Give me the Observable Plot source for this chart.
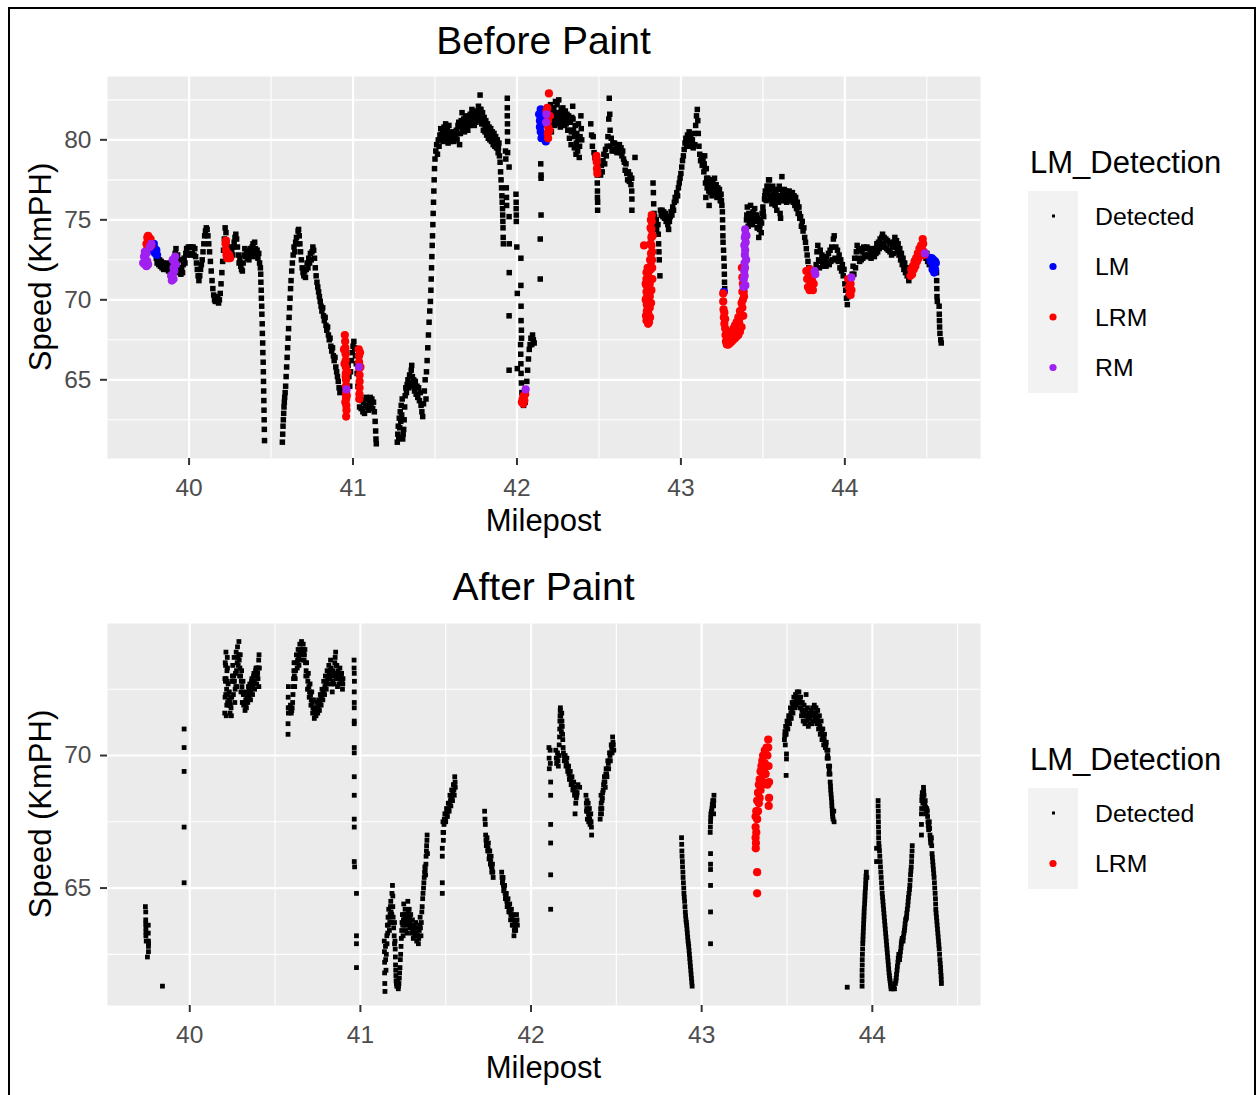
<!DOCTYPE html>
<html><head><meta charset="utf-8">
<script src="https://cdn.jsdelivr.net/npm/d3@7"></script>
<script src="https://cdn.jsdelivr.net/npm/@observablehq/plot@0.6"></script>
<style>
html,body{margin:0;padding:0;background:#fff;overflow:hidden;}
#wrap{position:relative;width:1259px;height:1095px;overflow:hidden;background:#fff;}
#wrap svg{position:absolute;left:0;}
#border{position:absolute;left:8px;top:7px;width:1248px;height:1200px;border:2px solid #000;box-sizing:border-box;pointer-events:none;}
</style></head><body><div id="wrap"><div id="border"></div></div><script>
const FONT = "'Liberation Sans', Arial, sans-serif";

// ---------- tick values ----------
const xMajorBefore = [40, 41, 42, 43, 44];
const xMinorBefore = [40.5, 41.5, 42.5, 43.5, 44.5];
const yMajorBefore = [65, 70, 75, 80];
const yMinorBefore = [62.5, 67.5, 72.5, 77.5, 82.5];
const xMajorAfter = [40, 41, 42, 43, 44];
const xMinorAfter = [40.5, 41.5, 42.5, 43.5, 44.5];
const yMajorAfter = [65, 70];
const yMinorAfter = [62.5, 67.5, 72.5];

const classesBefore = ["Detected", "LM", "LRM", "RM"];
const classesAfter = ["Detected", "LRM"];
const classColors = {Detected: "#000000", LM: "#0000FF", LRM: "#FF0000", RM: "#A020F0"};

// ---------- Before Paint: [milepost, speed] ----------
const beforeDetected = [
[39.795,72.9],[39.8,72.6],[39.805,72.3],[39.81,72.5],[39.815,72.2],[39.82,72.5],[39.825,72.1],[39.83,72.4],[39.835,72.0],[39.84,72.3],[39.845,71.9],[39.85,72.2],[39.855,72.0],[39.86,72.3],[39.865,71.9],[39.87,72.1],[39.875,71.8],[39.88,72.2],[39.885,71.9],[39.89,72.3],
[39.915,72.9],[39.92,73.2],[39.922,72.5],[39.925,71.7],[39.928,72.2],[39.93,72.8],[39.935,72.0],[39.94,72.5],[39.945,71.9],[39.95,71.6],[39.955,72.0],[39.96,71.7],[39.965,72.2],[39.97,72.6],[39.975,72.3],[39.98,72.9],[39.985,73.2],[39.99,72.8],[39.995,73.3],[40.0,72.9],[40.005,73.3],[40.01,72.8],[40.015,73.3],[40.02,72.9],[40.025,73.3],[40.03,72.8],[40.035,73.2],[40.04,72.7],[40.045,72.3],[40.05,71.9],[40.055,71.5],[40.06,71.2],[40.065,71.5],[40.07,71.9],[40.075,72.2],
[40.08,72.5],[40.085,73.0],[40.09,73.5],[40.095,74.0],[40.1,74.3],[40.105,74.5],[40.11,74.4],[40.115,74.0],[40.12,73.5],[40.125,73.0],[40.13,72.4],[40.135,71.8],[40.14,71.2],[40.145,70.7],[40.15,70.3],[40.155,70.0],[40.16,69.9],[40.165,70.2],[40.17,69.9],[40.175,70.1],[40.18,69.8],[40.185,70.0],[40.19,70.4],[40.195,71.0],[40.2,71.7],[40.205,72.4],[40.21,73.1],[40.215,73.8],[40.22,74.5],[40.225,74.2],
[40.23,73.5],[40.235,72.9],[40.24,73.3],[40.245,72.8],[40.25,73.2],[40.255,72.7],[40.26,73.1],[40.265,72.8],[40.27,73.3],[40.275,73.6],[40.28,73.9],[40.285,74.1],[40.29,73.8],[40.295,73.3],[40.3,72.8],[40.305,72.3],[40.31,72.6],[40.315,72.1],[40.32,71.9],[40.325,71.8],[40.33,72.3],[40.335,72.8],[40.34,73.2],[40.345,72.7],[40.35,73.1],[40.355,72.6],[40.36,73.0],[40.365,72.5],[40.37,72.9],[40.375,73.2],[40.38,72.7],[40.385,73.3],[40.39,73.5],[40.395,73.0],[40.4,73.6],[40.405,73.2],[40.41,72.7],[40.415,73.1],[40.42,72.6],[40.425,72.9],[40.43,72.3],[40.435,72.0],
[40.437,71.6],[40.438,71.1],[40.44,70.6],[40.441,70.1],[40.443,69.6],[40.444,69.1],[40.446,68.5],[40.447,67.9],[40.449,67.3],[40.45,66.7],[40.452,66.1],[40.453,65.5],[40.454,64.9],[40.455,64.3],[40.456,63.7],[40.457,63.1],[40.458,62.5],[40.459,61.9],[40.46,61.2],
[40.569,61.1],[40.571,61.6],[40.573,62.1],[40.575,62.5],[40.577,62.9],[40.579,63.3],[40.581,63.6],[40.583,63.9],[40.586,64.2],[40.589,64.6],[40.592,65.2],[40.595,65.8],[40.598,66.4],[40.601,67.0],[40.604,67.6],[40.607,68.2],[40.61,68.9],[40.613,69.5],[40.616,70.1],[40.619,70.7],[40.622,71.2],[40.626,71.8],[40.63,72.3],[40.635,72.8],[40.64,73.3],[40.645,73.0],[40.65,73.6],[40.655,73.9],[40.66,73.5],[40.665,74.3],[40.668,74.4],[40.672,74.0],[40.676,73.5],[40.68,73.0],[40.685,72.5],[40.69,72.0],[40.695,71.7],
[40.7,71.5],[40.705,71.8],[40.71,71.4],[40.715,71.9],[40.72,72.3],[40.725,72.0],[40.73,72.6],[40.735,72.3],[40.74,72.9],[40.745,72.5],[40.75,73.0],[40.755,73.3],[40.76,73.1],[40.765,72.6],[40.77,72.0],[40.775,71.5],[40.78,71.1],[40.785,70.8],[40.79,70.5],[40.795,70.2],[40.8,69.9],[40.805,69.6],[40.81,69.3],[40.815,69.5],[40.82,69.0],[40.825,68.7],[40.83,68.9],[40.835,68.4],[40.84,68.1],[40.845,68.3],[40.85,67.8],[40.855,67.5],[40.86,67.6],[40.865,67.1],[40.87,66.8],[40.875,67.0],[40.88,66.5],[40.885,66.2],[40.89,66.4],[40.895,65.8],[40.9,65.5],[40.905,65.2],[40.91,64.9],[40.915,64.5],[40.92,64.2],[40.925,64.4],
[40.955,64.2],[40.96,64.8],[40.965,65.4],[40.97,65.9],[40.975,65.2],[40.98,64.6],[40.985,65.5],[40.99,66.2],[40.995,66.7],[41.0,67.1],[41.005,67.4],[41.01,67.0],[41.015,66.5],[41.02,66.0],[41.025,65.4],
[41.03,64.6],[41.035,64.0],[41.04,63.3],[41.045,63.9],[41.05,63.2],[41.055,63.7],[41.06,63.0],[41.065,63.6],[41.07,62.9],[41.075,63.4],[41.08,63.9],[41.085,63.3],[41.09,63.8],[41.095,63.1],[41.1,63.6],[41.105,63.9],[41.11,63.4],[41.115,63.8],[41.12,63.2],[41.125,63.6],[41.13,63.0],[41.135,62.4],[41.138,61.8],[41.14,61.3],[41.142,61.0],
[41.27,61.1],[41.273,61.6],[41.276,62.1],[41.279,61.4],[41.282,62.6],[41.285,62.0],[41.288,63.0],[41.291,62.4],[41.294,63.4],[41.297,62.8],[41.3,63.8],[41.303,61.3],[41.306,61.6],[41.309,61.9],[41.312,62.5],[41.315,63.3],[41.318,64.0],[41.322,64.5],[41.326,64.2],[41.33,64.7],
[41.335,65.0],[41.34,64.5],[41.345,65.3],[41.35,64.8],[41.355,65.6],[41.358,65.9],[41.362,65.2],[41.366,64.6],[41.37,65.0],[41.375,64.3],[41.38,64.9],[41.385,64.1],[41.39,64.6],[41.395,63.9],[41.4,64.5],[41.405,63.7],[41.41,64.2],[41.415,63.4],[41.42,63.0],[41.425,62.7],[41.43,63.5],[41.435,64.3],[41.44,65.0],[41.445,63.8],
[41.448,65.5],[41.452,66.2],[41.456,67.0],[41.46,67.8],[41.464,68.6],[41.468,69.3],[41.472,69.9],[41.475,70.6],[41.477,71.3],[41.479,72.0],[41.481,72.7],[41.483,73.4],[41.485,74.0],[41.487,74.7],[41.489,75.4],[41.491,76.1],[41.493,76.8],[41.495,77.5],[41.497,78.2],[41.5,78.8],[41.505,79.3],[41.51,79.7],[41.515,79.1],[41.52,80.0],[41.525,79.6],[41.53,80.3],
[41.535,80.7],[41.54,80.0],[41.545,80.6],[41.55,79.9],[41.555,80.8],[41.56,80.2],[41.565,81.0],[41.57,80.1],[41.575,80.6],[41.58,79.8],[41.585,80.9],[41.59,80.2],[41.595,79.9],[41.6,80.4],[41.605,80.1],[41.61,80.3],[41.615,79.9],[41.62,80.5],[41.625,80.1],[41.63,80.6],[41.635,80.0],[41.64,80.9],[41.645,81.1],[41.65,79.7],[41.655,80.4],[41.66,81.2],[41.665,81.7],[41.67,80.6],[41.675,81.3],[41.68,80.5],[41.685,81.4],[41.69,80.8],[41.695,81.5],[41.7,80.6],[41.705,81.3],[41.71,80.9],[41.715,81.6],[41.72,81.0],[41.725,81.9],[41.73,81.2],[41.735,81.7],[41.74,80.9],[41.745,81.6],[41.75,81.1],[41.755,81.8],[41.76,81.2],[41.765,82.1],[41.77,81.4],[41.775,82.8],[41.78,81.9],[41.785,81.0],[41.79,81.7],[41.795,80.6],[41.8,81.4],[41.805,80.5],[41.81,81.2],[41.815,80.3],[41.82,81.0],[41.825,80.1],[41.83,80.8],[41.835,80.0],[41.84,80.7],[41.845,79.9],[41.85,80.5],[41.855,79.7],[41.86,80.4],[41.865,79.6],[41.87,80.2],[41.875,79.5],[41.88,80.0],[41.885,79.2],[41.89,79.8],[41.893,79.0],
[41.537,80.3],[41.547,80.3],[41.557,80.4],[41.567,80.5],[41.577,80.3],[41.587,80.5],[41.597,80.2],[41.607,80.2],[41.617,80.2],[41.627,80.3],[41.637,80.4],[41.647,80.4],[41.657,80.8],[41.667,81.1],[41.677,80.9],[41.687,81.0],[41.697,81.1],[41.707,81.1],[41.717,81.3],[41.727,81.5],[41.737,81.4],[41.747,81.4],[41.757,81.5],[41.767,81.7],[41.777,81.9],[41.787,81.3],[41.797,81.0],[41.807,80.8],[41.817,80.6],[41.827,80.4],[41.837,80.3],[41.847,80.2],[41.857,80.0],[41.867,79.9],[41.877,79.7],[41.887,79.5],
[41.897,78.6],[41.9,78.0],[41.903,77.5],[41.906,77.0],[41.908,76.5],[41.91,76.1],[41.912,75.7],[41.913,75.3],[41.914,74.9],[41.915,74.5],[41.916,73.9],[41.917,73.5],[41.93,79.3],[41.932,78.8],[41.935,77.0],[41.936,76.4],[41.937,75.9],
[41.941,82.6],[41.941,82.0],[41.941,81.5],[41.942,81.0],[41.942,80.5],[41.943,79.9],[41.943,79.2],
[41.952,78.3],[41.952,75.2],[41.953,73.5],[41.953,71.7],[41.952,69.0],[41.952,65.6],
[41.994,76.6],[41.995,76.1],[41.995,75.7],[41.996,75.3],[41.996,74.9],[41.999,73.3],[42.024,72.6],[42.024,70.9],[42.002,70.4],[42.025,69.6],[42.025,68.7],[42.027,68.1],[42.028,67.6],[42.002,65.7],
[42.022,67.2],[42.023,66.6],[42.024,66.0],[42.025,65.4],[42.027,64.8],[42.03,64.2],[42.035,63.7],[42.04,63.4],
[42.05,63.6],[42.055,64.2],[42.06,64.9],[42.065,65.6],[42.07,66.3],[42.075,66.9],[42.08,67.2],[42.085,67.6],[42.09,67.2],[42.095,67.8],[42.1,67.5],[42.105,67.3],
[42.145,78.5],[42.147,77.8],[42.147,77.6],[42.147,75.3],[42.142,73.8],[42.142,71.3],
[42.2,81.0],[42.205,82.2],[42.21,80.5],[42.215,81.8],[42.22,81.2],[42.225,82.0],[42.23,80.9],[42.235,82.4],[42.24,81.3],[42.245,82.2],[42.25,81.0],[42.255,82.5],[42.26,81.5],[42.265,80.8],[42.27,81.9],[42.275,81.0],[42.28,82.0],[42.285,81.2],[42.29,80.9],[42.295,81.8],[42.3,81.0],[42.305,81.6],[42.31,80.6],[42.315,81.5],[42.32,80.1],[42.325,81.1],[42.33,79.7],[42.335,81.4],[42.34,82.1],[42.345,80.6],[42.35,79.5],[42.355,80.9],[42.36,79.1],[42.365,80.4],[42.37,79.3],[42.375,81.0],[42.38,78.9],[42.385,80.2],[42.39,81.5],[42.395,80.0],
[42.202,81.6],[42.212,81.1],[42.222,81.6],[42.232,81.6],[42.242,81.7],[42.252,81.7],[42.262,81.2],[42.272,81.4],[42.282,81.6],[42.292,81.3],[42.302,81.3],[42.312,81.1],[42.322,80.6],[42.332,80.5],[42.342,81.3],[42.352,80.2],[42.362,79.8],[42.372,80.1],[42.382,79.6],[42.392,80.7],
[42.45,81.0],[42.455,80.3],[42.46,79.6],[42.465,80.2],[42.47,79.2],[42.475,78.9],
[42.49,77.8],[42.49,77.3],[42.491,76.8],[42.491,76.4],[42.492,76.1],[42.492,75.6],
[42.51,77.8],[42.515,78.4],[42.52,78.0],[42.525,78.7],[42.53,79.1],[42.535,78.5],[42.54,79.4],[42.545,79.0],[42.55,79.6],
[42.555,80.2],[42.56,81.3],[42.563,82.6],[42.566,81.6],[42.568,80.6],[42.57,79.6],[42.575,80.1],[42.58,79.3],
[42.585,79.8],[42.59,79.4],[42.595,79.8],[42.6,79.3],[42.605,79.7],[42.61,79.2],[42.615,79.6],[42.62,79.3],[42.625,79.7],[42.63,79.2],[42.635,79.5],[42.64,79.0],[42.645,79.3],[42.65,78.8],
[42.655,78.6],[42.66,78.1],[42.665,78.5],[42.67,77.9],[42.675,77.5],[42.68,78.0],[42.685,77.4],[42.69,77.8],[42.695,77.2],[42.7,77.6],[42.7,76.8],[42.701,76.3],[42.701,75.6],[42.72,78.9],
[42.83,77.3],[42.832,76.7],[42.834,76.0],[42.836,75.4],[42.838,74.8],[42.84,75.2],[42.845,74.6],[42.85,75.0],[42.852,74.4],
[42.86,74.7],[42.862,74.1],[42.864,73.5],[42.866,73.0],[42.868,72.5],[42.872,71.5],
[42.875,75.6],[42.88,75.3],[42.885,75.6],[42.89,75.2],[42.895,75.5],[42.9,75.1],[42.905,75.4],[42.91,74.9],[42.915,75.2],[42.92,74.7],[42.925,74.4],[42.93,74.9],[42.935,75.2],[42.94,75.5],[42.945,75.3],
[42.95,75.8],[42.955,75.6],[42.96,76.1],[42.965,76.4],[42.97,76.2],[42.975,76.7],[42.98,76.5],[42.985,77.0],[42.99,77.3],[42.995,77.6],
[43.0,77.9],[43.005,78.3],[43.01,78.7],[43.015,79.0],[43.02,79.4],[43.025,79.8],[43.03,80.1],[43.035,79.6],[43.04,80.3],[43.045,79.9],
[43.05,80.5],[43.055,79.8],[43.06,80.2],[43.065,79.6],[43.07,80.0],[43.075,79.5],[43.08,80.4],[43.085,79.7],[43.09,80.9],[43.095,81.5],[43.1,81.9],[43.103,81.2],[43.106,80.4],[43.11,79.6],
[43.115,79.1],[43.12,78.7],[43.125,79.0],[43.13,78.4],[43.135,78.8],
[43.14,78.0],[43.145,79.0],[43.15,77.3],[43.152,76.4],[43.155,78.2],[43.16,77.0],[43.165,77.6],[43.17,76.8],[43.172,75.9],[43.175,77.4],[43.18,76.7],[43.185,77.5],[43.19,76.5],[43.195,77.3],[43.2,76.8],[43.205,77.6],[43.21,76.7],[43.215,77.2],[43.22,76.4],[43.225,77.0],[43.23,76.5],[43.235,76.9],[43.24,76.2],[43.245,76.6],[43.25,75.9],
[43.142,78.5],[43.147,78.2],[43.157,77.6],[43.167,77.2],[43.177,77.0],[43.187,77.0],[43.197,76.9],[43.207,77.1],[43.217,76.8],[43.227,76.7],[43.237,76.5],[43.247,76.2],
[43.253,75.5],[43.254,75.0],[43.255,74.5],[43.256,74.0],[43.257,73.6],[43.26,73.1],[43.262,72.6],[43.264,72.1],[43.265,71.6],[43.266,71.1],[43.267,70.7],
[43.388,70.5],
[43.395,74.3],[43.4,75.0],[43.405,75.8],[43.41,74.6],[43.415,75.4],[43.42,74.8],[43.425,75.9],[43.43,75.2],[43.435,74.7],[43.44,75.5],[43.445,75.0],[43.45,75.7],[43.455,74.9],[43.46,75.3],[43.465,74.5],[43.47,75.1],[43.475,73.9],[43.48,74.4],[43.485,75.0],[43.49,74.2],[43.495,75.4],[43.5,75.8],[43.505,75.2],[43.51,76.3],[43.515,76.8],[43.52,76.2],[43.525,77.1],[43.53,76.7],[43.535,77.5],
[43.402,75.3],[43.412,75.0],[43.422,75.3],[43.432,75.0],[43.442,75.2],[43.452,75.3],[43.462,74.9],[43.472,74.5],[43.482,74.7],[43.492,74.8],[43.502,75.5],[43.512,76.5],[43.522,76.6],[43.532,77.1],
[43.54,77.5],[43.545,76.3],[43.55,77.0],[43.555,76.0],[43.56,77.1],[43.565,76.2],[43.57,76.8],[43.575,75.9],[43.58,76.6],[43.585,75.6],[43.59,76.9],[43.595,76.1],[43.6,77.1],[43.605,75.4],[43.608,75.1],[43.612,76.5],[43.616,77.7],[43.62,76.8],[43.625,76.2],[43.63,76.9],[43.635,76.2],[43.64,76.8],[43.645,76.1],[43.65,76.7],[43.655,76.2],[43.66,76.8],[43.665,76.3],[43.67,76.7],[43.675,76.2],[43.68,76.7],[43.685,76.1],[43.69,76.5],[43.695,75.9],[43.7,76.4],[43.705,75.7],[43.71,76.1],[43.715,75.4],[43.72,75.8],[43.725,75.1],
[43.542,76.9],[43.552,76.5],[43.562,76.6],[43.572,76.3],[43.582,76.1],[43.592,76.5],[43.602,76.2],[43.622,76.5],[43.632,76.5],[43.642,76.4],[43.652,76.4],[43.662,76.5],[43.672,76.4],[43.682,76.4],[43.692,76.2],[43.702,76.0],[43.712,75.8],[43.722,75.4],
[43.73,75.2],[43.735,74.6],[43.74,74.9],[43.745,74.3],[43.75,74.5],[43.755,73.9],[43.76,73.6],[43.765,73.2],[43.77,72.8],[43.775,72.4],[43.78,72.0],
[43.825,72.2],[43.83,73.0],[43.835,73.4],[43.84,72.5],[43.845,72.0],[43.85,73.1],[43.855,72.4],[43.86,72.8],[43.865,72.1],[43.87,72.6],[43.875,72.2],[43.88,72.5],[43.885,72.1],[43.89,72.7],[43.895,72.3],[43.9,72.9],[43.905,72.2],[43.91,73.1],[43.915,72.4],[43.92,73.3],[43.925,72.5],[43.93,73.8],[43.935,74.0],[43.94,72.6],[43.945,73.3],[43.95,72.5],[43.955,73.1],[43.96,72.4],[43.965,72.8],[43.97,72.0],[43.975,72.5],[43.98,71.8],[43.985,72.2],[43.99,71.5],[43.995,71.9],[44.0,71.0],[44.005,70.6],[44.01,70.1],[44.015,69.7],[44.02,70.2],
[44.045,71.6],[44.05,72.1],[44.055,71.6],[44.06,72.6],[44.065,72.0],[44.07,73.0],[44.075,73.4],[44.08,72.6],[44.085,73.1],[44.09,72.4],[44.095,73.2],[44.1,72.5],[44.105,73.0],[44.11,72.6],[44.115,73.3],[44.12,72.8],[44.125,73.2],[44.13,72.7],[44.135,73.3],[44.14,72.8],[44.145,73.2],[44.15,72.7],[44.155,73.1],[44.16,72.6],[44.165,73.2],[44.17,72.8],[44.175,73.1],[44.18,72.7],[44.185,73.2],[44.19,72.9],[44.195,73.5],[44.2,73.0],[44.205,73.6],[44.21,73.2],[44.215,73.8],[44.22,73.3],[44.225,73.9],[44.23,74.1],[44.235,73.5],[44.24,73.9],[44.245,73.3],[44.25,73.8],[44.255,73.2],[44.26,73.7],[44.265,73.1],[44.27,73.6],[44.275,73.0],[44.28,73.5],[44.285,72.8],[44.29,73.3],[44.295,72.9],[44.3,73.6],[44.305,73.9],[44.31,73.3],[44.315,73.7],[44.32,73.0],[44.325,73.5],[44.33,72.8],[44.335,73.2],[44.34,72.5],[44.345,72.9],[44.35,72.2],[44.355,72.6],[44.36,71.9],[44.365,72.3],[44.37,71.7],[44.375,72.0],[44.38,71.5],[44.385,71.8],[44.39,71.2],[44.395,71.6],
[44.49,72.9],[44.495,72.6],[44.5,72.9],[44.505,72.4],[44.51,72.7],[44.515,72.2],
[44.558,72.3],[44.559,71.7],[44.56,71.2],[44.561,70.7],[44.562,70.2],[44.564,69.9],[44.575,69.6],[44.576,69.1],[44.577,68.7],[44.578,68.3],[44.58,67.9],[44.585,67.5],[44.588,67.3]
];

const beforeLM = [
[39.775,73.2],[39.78,73.4],[39.785,73.0],[39.79,73.2],[39.795,72.9],[39.8,73.1],[39.805,72.8],[39.785,73.5],
[42.135,81.6],[42.14,81.2],[42.14,80.8],[42.145,80.5],[42.145,81.9],[42.15,80.1],[42.155,80.3],[42.16,81.4],[42.175,80.0],[42.176,79.9],
[43.262,70.5],
[44.52,72.6],[44.525,72.4],[44.53,72.6],[44.535,72.3],[44.535,71.9],[44.54,72.5],[44.54,72.0],[44.545,71.7],[44.55,72.4],[44.55,71.9],[44.555,72.3]
];

const beforeLRM = [
[39.74,73.5],[39.745,73.9],[39.75,74.0],[39.755,73.9],[39.76,73.6],[39.745,73.2],[39.765,73.8],[39.77,73.4],
[40.222,73.5],[40.225,73.1],[40.228,72.8],[40.232,72.6],[40.236,72.9],[40.24,72.6],[40.245,72.8],[40.25,72.6],[40.225,73.7],
[40.95,67.8],[40.952,67.4],[40.953,67.0],[40.955,66.6],[40.955,66.2],[40.956,65.8],[40.956,65.4],[40.957,65.0],[40.957,64.6],[40.958,64.2],[40.958,63.8],[40.959,63.4],[40.96,63.1],[40.958,62.7],[40.945,66.9],[40.948,66.0],[40.965,65.5],[40.962,64.0],[40.952,66.8],[40.955,65.2],[40.957,64.0],[40.953,63.6],
[41.035,66.9],[41.037,66.5],[41.037,66.1],[41.038,65.7],[41.04,65.3],[41.04,64.9],[41.04,64.5],[41.039,64.1],[41.038,63.8],[41.045,65.8],[41.043,66.7],
[42.03,63.6],[42.035,63.8],[42.04,64.0],[42.045,63.7],[42.05,64.1],[42.038,63.5],
[42.195,82.9],[42.185,82.0],[42.185,81.6],[42.19,81.2],[42.19,80.8],[42.188,80.4],[42.19,80.1],[42.18,81.8],[42.2,81.5],[42.198,80.6],
[42.485,79.0],[42.487,78.6],[42.488,78.2],[42.49,77.9],[42.484,78.8],
[42.775,73.4],[42.79,71.7],[42.79,71.3],[42.79,70.9],[42.79,70.5],[42.79,70.1],[42.792,69.7],[42.792,69.3],[42.795,68.9],[42.8,68.5],[42.805,68.6],[42.8,69.2],[42.8,70.0],[42.8,70.8],[42.8,71.5],[42.81,71.0],[42.81,70.2],[42.81,69.5],[42.812,68.9],[42.815,71.9],[42.818,72.4],[42.818,72.9],[42.82,73.4],[42.82,73.9],[42.82,74.4],[42.822,74.9],[42.822,75.3],[42.825,72.0],[42.825,73.0],[42.828,74.0],[42.826,71.3],[42.82,70.6],[42.818,69.8],
[42.785,70.0],[42.785,71.0],[42.787,69.0],[42.79,68.7],[42.797,72.0],[42.805,71.8],[42.808,70.4],[42.812,72.5],[42.815,73.5],[42.815,74.5],[42.817,75.0],[42.824,72.5],[42.823,74.0],[42.797,69.6],[42.805,69.0],
[43.258,70.4],[43.258,69.9],[43.26,69.4],[43.262,68.9],[43.265,68.5],[43.27,68.2],[43.272,67.8],[43.275,67.4],[43.28,67.2],[43.285,67.5],[43.29,67.2],[43.295,67.6],[43.3,67.3],[43.305,67.7],[43.31,67.4],[43.315,67.9],[43.32,67.5],[43.325,68.0],[43.33,67.6],[43.335,68.2],[43.34,67.7],[43.345,68.4],[43.35,67.8],[43.355,68.6],[43.36,68.0],[43.365,69.0],[43.37,68.3],[43.375,69.5],[43.378,70.0],[43.38,69.0],[43.382,70.5],[43.375,71.4],[43.372,72.0],[43.385,70.2],
[43.265,69.2],[43.27,68.8],[43.28,67.8],[43.29,67.8],[43.3,67.9],[43.31,68.0],[43.32,68.2],[43.33,68.4],[43.34,68.6],[43.35,68.9],[43.36,69.3],[43.37,69.8],[43.375,70.5],[43.378,71.0],
[43.765,71.8],[43.77,71.3],[43.775,70.8],[43.78,71.5],[43.785,70.6],[43.79,71.1],[43.795,70.7],[43.8,71.2],[43.805,70.6],[43.81,71.0],[43.785,71.9],
[44.02,71.3],[44.025,70.8],[44.03,70.4],[44.035,71.0],[44.035,70.3],[44.04,70.6],
[44.4,71.5],[44.405,71.9],[44.41,71.6],[44.415,72.1],[44.42,71.9],[44.425,72.4],[44.43,72.1],[44.435,72.6],[44.44,72.4],[44.445,72.9],[44.45,72.6],[44.455,73.2],[44.46,72.9],[44.465,73.4],[44.47,73.2],[44.475,73.8],[44.478,73.5],[44.482,73.0],[44.485,72.8]
];

const beforeRM = [
[39.72,72.3],[39.725,72.7],[39.73,73.0],[39.73,72.2],[39.735,72.5],[39.74,72.9],[39.74,72.1],[39.745,72.4],[39.75,72.2],[39.76,73.3],[39.77,73.5],
[39.89,71.5],[39.895,71.2],[39.9,71.6],[39.905,72.0],[39.905,71.3],[39.91,72.4],[39.91,71.8],[39.915,72.7],[39.92,72.2],[39.9,72.5],
[40.96,64.4],[41.037,65.8],[42.053,64.4],[42.18,81.6],[42.178,81.1],
[43.382,70.8],[43.384,71.3],[43.386,71.8],[43.388,72.3],[43.39,72.8],[43.392,73.1],[43.395,73.6],[43.395,74.1],[43.392,74.4],[43.4,74.0],[43.398,72.5],[43.393,70.9],[43.387,73.4],[43.39,73.9],[43.389,71.5],[43.391,72.0],
[43.815,71.8],[43.82,71.6],[44.04,71.4],[44.489,72.9]
];

// ---------- After Paint: [milepost, speed] ----------
const afterDetected = [
[39.742,64.1],[39.742,63.8],[39.743,63.5],[39.743,63.2],[39.745,63.0],[39.757,63.6],[39.757,63.3],[39.758,63.0],[39.758,62.8],[39.758,62.6],[39.752,62.4],[39.74,64.3],[39.742,63.65],[39.743,63.35],[39.758,62.9],
[39.84,61.3],
[39.967,71.0],[39.967,70.3],[39.967,69.4],[39.967,67.3],[39.967,65.2],
[40.205,71.6],[40.207,72.2],[40.209,72.8],[40.21,73.4],[40.212,73.9],[40.214,71.5],[40.216,72.5],[40.218,73.2],[40.22,73.7],[40.222,72.0],[40.225,72.7],[40.228,71.9],[40.232,72.4],[40.236,71.6],[40.24,72.2],[40.244,71.5],[40.248,72.8],[40.252,73.4],[40.256,72.3],[40.26,73.7],[40.264,72.0],[40.268,73.1],[40.272,73.9],[40.276,72.6],[40.28,74.1],[40.284,73.4],[40.288,74.3],[40.292,73.0],[40.296,73.8],[40.3,72.4],[40.304,73.2],[40.308,72.0],[40.312,72.8],[40.316,71.9],[40.32,72.3],[40.324,71.7],[40.328,72.1],[40.332,71.8],[40.336,72.4],[40.34,72.0],[40.344,72.6],[40.348,72.2],[40.352,72.7],[40.356,72.1],[40.36,72.6],[40.364,72.9],[40.368,72.3],[40.372,72.8],[40.376,73.1],[40.38,72.5],[40.384,73.0],[40.388,73.3],[40.392,72.7],[40.396,73.3],[40.4,72.9],[40.404,73.6],[40.406,73.8],[40.408,73.3],[40.405,72.6],
[40.206,72.9],[40.208,73.5],[40.211,72.3],[40.213,72.9],[40.217,71.9],[40.219,72.8],[40.221,73.3],[40.224,72.3],[40.23,72.1],[40.234,72.0],[40.238,71.9],[40.242,71.8],[40.246,72.2],[40.25,73.0],[40.254,72.8],[40.258,73.0],[40.262,72.8],[40.266,72.5],[40.27,72.6],[40.274,73.2],[40.278,73.5],[40.282,73.7],[40.286,73.8],[40.29,73.6],[40.294,73.3],[40.298,73.0],[40.302,72.8],[40.306,72.6],[40.31,72.4],[40.314,72.3],[40.318,72.0],[40.322,72.0],[40.326,71.9],[40.33,72.0],[40.334,72.1],[40.338,72.2],[40.342,72.3],[40.346,72.4],[40.35,72.5],[40.354,72.4],[40.358,72.4],[40.362,72.8],[40.366,72.6],[40.37,72.6],[40.374,73.0],[40.378,72.8],[40.382,72.7],[40.386,73.2],[40.39,73.0],[40.394,73.0],[40.398,73.1],[40.402,73.3],
[40.576,71.2],[40.576,70.8],[40.577,71.8],[40.578,71.6],[40.578,72.6],[40.59,71.9],[40.595,71.6],[40.6,71.8],[40.605,72.3],[40.608,72.9],[40.611,73.5],[40.615,72.6],[40.62,73.2],[40.625,73.8],[40.63,73.3],[40.635,74.0],[40.64,73.4],[40.645,74.2],[40.65,73.6],[40.655,74.3],[40.66,73.8],[40.665,74.2],[40.67,73.6],[40.675,74.0],[40.68,73.0],[40.685,73.5],[40.69,72.5],[40.695,73.1],[40.7,72.2],[40.705,72.7],[40.71,71.9],[40.715,72.4],[40.72,71.6],[40.725,72.1],[40.73,71.4],[40.735,71.8],[40.74,71.5],[40.745,72.0],[40.75,71.6],[40.755,72.1],[40.76,71.7],[40.765,72.3],[40.77,71.9],[40.775,72.5],[40.78,72.1],[40.785,72.8],[40.79,72.3],[40.795,73.0],[40.8,72.5],[40.805,73.2],[40.81,72.7],[40.815,73.4],[40.82,72.9],[40.825,73.6],
[40.577,72.2],[40.585,71.8],[40.592,71.7],[40.598,71.7],[40.603,72.0],[40.607,72.6],[40.61,73.2],[40.613,73.0],[40.618,72.9],[40.622,73.5],[40.628,73.5],[40.632,73.6],[40.638,73.7],[40.642,73.8],[40.648,73.9],[40.652,73.9],[40.658,74.0],[40.662,74.0],[40.668,73.9],[40.672,73.8],[40.678,73.5],[40.682,73.2],[40.688,73.0],[40.692,72.8],[40.698,72.6],[40.702,72.4],[40.708,72.3],[40.712,72.1],[40.718,72.0],[40.722,71.8],[40.728,71.7],[40.732,71.6],[40.738,71.6],[40.742,71.7],[40.748,71.8],[40.752,71.8],[40.758,71.9],[40.762,72.0],[40.768,72.1],[40.772,72.2],[40.778,72.3],[40.782,72.4],[40.788,72.5],[40.792,72.6],[40.798,72.7],[40.802,72.8],[40.808,72.9],[40.812,73.0],[40.818,73.1],[40.822,73.2],[40.828,73.3],[40.832,72.7],[40.838,72.8],[40.842,73.0],[40.848,73.1],[40.852,73.7],[40.857,73.4],[40.86,73.1],[40.864,73.0],[40.868,72.9],[40.872,72.95],[40.878,73.0],[40.882,73.05],[40.888,72.95],[40.892,72.8],[40.897,72.7],
[40.83,73.0],[40.835,72.4],[40.84,73.2],[40.845,72.7],[40.85,73.5],[40.855,73.9],[40.858,72.9],[40.862,73.4],[40.866,72.6],[40.87,73.2],[40.875,72.7],[40.88,73.3],[40.885,72.8],[40.89,73.1],[40.895,72.5],[40.898,72.9],
[40.963,73.6],[40.963,73.3],[40.964,73.1],[40.965,72.8],[40.964,72.4],[40.964,72.0],[40.964,71.8],[40.964,71.3],[40.964,71.2],[40.964,70.3],[40.964,70.1],[40.964,69.2],[40.964,68.5],[40.964,67.6],[40.964,67.3],[40.964,66.0],[40.966,65.8],[40.977,64.8],[40.977,63.2],[40.977,62.9],[40.977,62.0],
[41.14,63.0],[41.141,62.6],[41.142,62.2],[41.142,61.8],[41.143,61.4],[41.144,61.1],[41.147,62.8],[41.148,62.3],[41.15,61.9],[41.155,63.2],[41.158,63.6],[41.162,63.9],[41.166,64.2],[41.17,63.4],[41.174,64.0],[41.178,64.5],[41.182,63.7],[41.185,64.8],[41.188,65.1],[41.19,64.3],[41.195,63.5],[41.2,63.7],[41.203,63.0],[41.205,62.4],[41.207,61.9],[41.209,61.5],[41.213,61.3],[41.218,61.5],[41.222,61.2],[41.226,61.4],[41.23,61.8],[41.234,62.3],[41.238,62.8],[41.242,63.4],[41.246,64.0],[41.25,63.2],[41.254,64.4],[41.258,63.6],[41.262,64.2],[41.266,63.4],[41.27,64.0],[41.274,63.3],[41.278,64.5],[41.282,63.8],[41.286,64.2],[41.29,63.5],[41.295,64.0],[41.3,63.3],[41.305,63.8],[41.31,63.1],[41.315,63.6],[41.32,63.2],[41.325,63.7],[41.33,63.0],[41.335,63.5],[41.34,62.9],[41.345,63.4],[41.35,63.9],[41.355,63.2],[41.36,64.1],[41.365,64.6],[41.37,65.0],[41.374,65.4],[41.378,65.8],[41.382,65.5],[41.385,66.2],[41.388,66.6],[41.391,67.0],[41.393,66.3],
[41.152,62.5],[41.156,62.9],[41.16,63.3],[41.164,63.6],[41.168,63.9],[41.172,63.7],[41.176,64.3],[41.18,64.1],[41.184,64.0],[41.19,64.7],[41.192,63.9],[41.198,63.2],[41.2,62.9],[41.204,62.7],[41.206,62.1],[41.208,61.7],[41.211,61.4],[41.216,61.4],[41.22,61.3],[41.224,61.3],[41.228,61.6],[41.232,62.0],[41.236,62.5],[41.24,63.1],[41.244,63.7],[41.248,63.6],[41.252,63.8],[41.256,64.0],[41.26,63.9],[41.264,63.8],[41.268,63.7],[41.272,63.6],[41.276,63.9],[41.28,64.1],[41.284,64.0],[41.288,63.9],[41.292,63.7],[41.297,63.6],[41.302,63.5],[41.307,63.4],[41.312,63.3],[41.317,63.4],[41.322,63.5],[41.327,63.3],[41.332,63.2],[41.337,63.2],[41.342,63.1],[41.347,63.6],[41.352,63.5],[41.357,63.7],[41.362,64.3],[41.367,64.8],[41.372,65.2],[41.376,65.6],[41.38,65.7],[41.384,65.9],[41.387,66.4],[41.39,66.8],
[41.48,66.5],[41.48,66.2],[41.48,65.2],[41.48,64.8],[41.484,67.5],[41.484,67.1],[41.486,66.8],[41.49,67.4],[41.495,67.8],[41.5,67.5],[41.505,68.0],[41.51,67.7],[41.515,68.2],[41.52,67.9],[41.525,68.5],[41.53,68.1],[41.535,68.7],[41.54,68.3],[41.545,68.9],[41.55,68.5],[41.553,69.2],[41.556,68.8],
[41.488,67.1],[41.492,67.6],[41.498,67.6],[41.502,67.8],[41.508,67.9],[41.512,67.9],[41.518,68.0],[41.522,68.2],[41.528,68.3],[41.532,68.4],[41.538,68.5],[41.542,68.6],[41.548,68.7],[41.551,68.9],[41.555,69.0],
[41.728,67.9],[41.732,67.4],[41.734,67.0],[41.738,66.6],[41.742,66.9],[41.746,66.4],[41.75,66.7],[41.754,66.1],[41.758,66.4],[41.762,65.9],[41.766,66.2],[41.77,65.6],[41.774,65.9],[41.778,65.4],
[41.73,67.6],[41.736,66.8],[41.74,66.7],[41.744,66.6],[41.748,66.5],[41.752,66.4],[41.756,66.2],[41.76,66.1],[41.764,66.0],[41.768,65.8],[41.772,65.7],[41.776,65.6],
[41.828,65.6],[41.832,65.2],[41.836,65.4],[41.84,64.9],[41.845,65.1],[41.85,64.6],[41.855,64.8],[41.86,64.3],[41.865,64.6],[41.87,64.1],[41.875,64.4],[41.88,63.8],[41.885,64.2],[41.89,63.6],[41.895,64.0],[41.9,63.2],[41.905,63.7],[41.91,63.4],[41.915,64.0],[41.92,63.6],
[41.83,65.4],[41.834,65.3],[41.838,65.1],[41.842,65.0],[41.848,64.8],[41.852,64.7],[41.858,64.5],[41.862,64.4],[41.868,64.3],[41.872,64.2],[41.878,64.1],[41.882,64.0],[41.888,63.9],[41.892,63.8],[41.898,63.6],[41.902,63.4],[41.908,63.5],[41.912,63.7],[41.918,63.8],
[42.105,70.3],[42.106,69.9],[42.107,69.5],[42.112,70.2],[42.113,69.7],[42.115,69.0],[42.115,68.5],[42.115,67.4],[42.115,66.7],[42.115,65.5],[42.115,64.2],
[42.145,70.2],[42.15,69.7],[42.155,70.1],[42.16,69.6],[42.165,70.4],[42.168,71.0],[42.17,71.5],[42.172,71.8],[42.175,71.3],[42.178,70.9],[42.18,71.6],[42.183,71.1],[42.186,70.6],[42.19,70.1],[42.195,69.8],[42.2,70.0],[42.205,69.6],[42.21,69.9],[42.215,69.4],[42.22,69.6],[42.225,69.1],[42.23,69.4],[42.235,68.9],[42.24,69.2],[42.245,68.7],[42.25,69.0],[42.255,68.5],[42.26,68.8],[42.262,68.2],[42.258,67.8],[42.265,68.4],[42.27,68.6],[42.275,68.9],[42.285,68.8],
[42.148,69.9],[42.152,69.9],[42.158,69.8],[42.162,70.0],[42.167,70.7],[42.169,71.3],[42.171,71.7],[42.174,71.5],[42.177,71.1],[42.181,71.3],[42.185,70.8],[42.188,70.3],[42.192,70.0],[42.198,69.9],[42.202,69.8],[42.208,69.7],[42.212,69.6],[42.218,69.5],[42.222,69.3],[42.228,69.2],[42.232,69.1],[42.238,69.0],[42.242,68.9],[42.248,68.8],[42.252,68.7],[42.257,68.6],[42.262,68.6],[42.268,68.5],
[42.322,68.5],[42.325,67.9],[42.328,68.3],[42.33,67.6],[42.335,68.2],[42.338,67.5],[42.342,68.0],[42.346,67.4],[42.35,67.8],[42.354,67.3],[42.355,67.0],
[42.324,68.2],[42.327,68.0],[42.332,67.9],[42.337,67.8],[42.34,67.7],[42.344,67.6],[42.348,67.5],[42.352,67.5],
[42.405,67.6],[42.408,68.0],[42.41,68.5],[42.413,67.8],[42.416,68.3],
[42.42,68.6],[42.425,68.9],[42.43,69.2],[42.435,68.8],[42.44,69.5],[42.445,69.2],[42.45,69.8],[42.455,69.5],[42.46,70.1],[42.465,69.8],[42.47,70.4],[42.475,70.1],[42.478,70.7],[42.482,70.4],[42.485,70.2],
[42.407,67.8],[42.411,68.2],[42.415,68.0],[42.418,68.4],[42.423,68.7],[42.428,69.0],[42.433,69.0],[42.438,69.3],[42.443,69.3],[42.448,69.5],[42.453,69.7],[42.458,69.8],[42.463,70.0],[42.468,70.1],[42.473,70.3],[42.476,70.4],[42.48,70.5],
[42.882,66.9],[42.884,66.4],[42.887,66.0],[42.89,65.6],[42.893,65.2],[42.896,64.8],[42.9,64.5],[42.904,64.1],[42.908,63.8],[42.912,63.6],[42.916,63.3],[42.92,63.0],[42.924,62.8],[42.928,62.5],[42.932,62.2],[42.936,61.9],[42.94,61.6],[42.944,61.3],
[42.883,66.65],[42.885,66.2],[42.888,65.8],[42.891,65.4],[42.895,65.0],[42.898,64.65],[42.902,64.3],[42.906,63.95],[42.91,63.7],[42.914,63.45],[42.918,63.15],[42.922,62.9],[42.926,62.65],[42.93,62.35],[42.934,62.05],[42.938,61.75],[42.942,61.45],
[43.05,67.1],[43.052,67.5],[43.054,67.8],[43.06,68.0],[43.065,68.3],[43.07,68.1],[43.072,68.5],[43.07,67.8],[43.052,66.3],[43.052,65.9],[43.052,65.7],[43.052,65.1],[43.052,64.1],[43.052,62.9],
[43.051,67.3],[43.053,67.65],[43.057,67.9],[43.062,68.15],[43.068,68.2],[43.071,68.3],
[43.485,70.6],[43.488,70.9],[43.49,70.4],[43.492,71.1],[43.495,70.8],[43.497,70.06],[43.497,69.87],[43.495,69.25],[43.5,71.3],[43.505,71.0],[43.51,71.5],[43.515,71.2],[43.52,71.8],[43.525,71.4],[43.53,72.0],[43.535,71.6],[43.54,72.2],[43.545,71.8],[43.55,72.3],[43.555,71.9],[43.56,72.4],[43.565,72.0],[43.57,72.4],[43.575,71.8],[43.58,72.2],[43.585,71.5],[43.59,72.0],[43.595,71.3],[43.6,71.9],[43.605,71.2],[43.61,71.7],[43.612,72.3],[43.615,71.3],[43.62,71.8],[43.625,71.1],[43.63,71.6],[43.635,71.2],[43.64,71.7],[43.645,71.2],[43.65,71.8],[43.655,71.3],[43.66,71.9],[43.665,71.4],[43.67,71.8],[43.675,71.2],[43.68,71.7],[43.685,71.0],[43.69,71.5],[43.695,70.8],[43.7,71.3],[43.705,70.6],[43.71,71.0],[43.715,70.4],[43.72,70.8],[43.725,70.3],[43.73,70.5],[43.735,69.9],[43.74,70.2],[43.743,69.6],[43.746,69.3],[43.75,69.6],[43.753,69.0],[43.756,68.7],[43.76,68.4],[43.763,68.1],[43.766,67.8],[43.77,67.6],[43.774,67.9],[43.776,67.5],
[43.487,70.75],[43.493,70.9],[43.498,71.1],[43.503,71.2],[43.508,71.3],[43.513,71.4],[43.518,71.5],[43.523,71.6],[43.528,71.7],[43.533,71.8],[43.538,71.9],[43.543,72.0],[43.548,72.0],[43.553,72.1],[43.558,72.1],[43.563,72.2],[43.568,72.2],[43.573,72.1],[43.578,72.0],[43.583,71.8],[43.588,71.7],[43.593,71.6],[43.598,71.6],[43.603,71.5],[43.608,71.5],[43.618,71.5],[43.623,71.4],[43.628,71.4],[43.633,71.4],[43.638,71.5],[43.643,71.5],[43.648,71.5],[43.653,71.6],[43.658,71.6],[43.663,71.6],[43.668,71.6],[43.673,71.5],[43.678,71.4],[43.683,71.3],[43.688,71.2],[43.693,71.1],[43.698,71.0],[43.703,70.9],[43.708,70.8],[43.713,70.7],[43.718,70.6],[43.723,70.5],[43.728,70.4],[43.733,70.2],[43.738,70.0],[43.742,69.9],[43.748,69.45],[43.752,69.3],[43.755,68.85],[43.758,68.55],[43.762,68.25],[43.765,67.95],[43.768,67.7],
[43.853,61.26],
[43.94,61.3],[43.94,61.7],[43.941,62.1],[43.942,62.5],[43.944,62.9],[43.946,63.2],[43.948,63.5],[43.95,63.8],[43.952,64.1],[43.955,64.4],[43.957,64.7],[43.96,65.0],[43.962,65.3],[43.965,65.6],[43.968,65.4],
[43.94,61.5],[43.94,61.9],[43.941,62.3],[43.943,62.7],[43.945,63.05],[43.947,63.35],[43.949,63.65],[43.951,63.95],[43.953,64.25],[43.956,64.55],[43.958,64.85],[43.961,65.15],[43.963,65.45],
[44.025,66.5],[44.025,66.0],[44.034,68.3],[44.035,67.9],[44.036,67.5],[44.037,67.1],[44.038,66.7],
[44.042,66.4],[44.046,66.0],[44.05,65.6],[44.054,65.2],[44.058,64.8],[44.062,64.5],[44.066,64.2],[44.07,63.9],[44.074,63.6],[44.078,63.3],[44.082,63.0],[44.086,62.7],[44.09,62.4],[44.094,62.1],[44.098,61.8],[44.102,61.6],[44.106,61.4],[44.11,61.2],
[44.034,68.1],[44.035,67.7],[44.036,67.3],[44.037,66.9],[44.04,66.55],[44.044,66.2],[44.048,65.8],[44.052,65.4],[44.056,65.0],[44.06,64.65],[44.064,64.35],[44.068,64.05],[44.072,63.75],[44.076,63.45],[44.08,63.15],[44.084,62.85],[44.088,62.55],[44.092,62.25],[44.096,61.95],[44.1,61.7],[44.104,61.5],[44.108,61.3],
[44.115,61.3],[44.12,61.2],[44.125,61.3],[44.13,61.2],[44.135,61.4],
[44.14,61.6],[44.145,61.9],[44.15,62.2],[44.155,62.5],[44.16,62.3],[44.165,62.6],[44.17,62.9],[44.175,63.1],[44.18,63.0],[44.185,63.3],[44.19,63.5],[44.195,63.8],[44.2,63.9],[44.205,64.2],[44.21,64.5],[44.215,64.8],[44.22,65.1],[44.224,65.5],[44.228,65.8],[44.231,66.2],[44.234,66.6],
[44.138,61.5],[44.142,61.75],[44.147,62.05],[44.152,62.35],[44.158,62.4],[44.162,62.45],[44.168,62.75],[44.172,63.0],[44.178,63.05],[44.182,63.15],[44.188,63.4],[44.192,63.65],[44.198,63.85],[44.202,64.05],[44.208,64.35],[44.212,64.65],[44.218,64.95],[44.222,65.3],[44.226,65.65],[44.23,66.0],[44.233,66.4],
[44.288,67.8],[44.288,67.4],[44.288,67.0],[44.29,68.3],[44.293,68.6],[44.296,68.2],[44.3,68.8],[44.303,68.5],[44.306,68.0],[44.31,68.3],[44.314,67.8],[44.318,68.0],
[44.322,67.9],[44.326,67.5],[44.33,67.2],[44.334,67.5],[44.338,67.0],[44.342,66.7],[44.346,66.9],[44.35,66.3],[44.354,66.0],[44.358,65.7],[44.362,65.4],[44.366,65.0],[44.37,64.6],[44.372,64.2],[44.376,63.9],[44.38,63.6],[44.384,63.3],[44.388,63.0],[44.392,62.7],[44.396,62.3],[44.4,62.0],[44.403,61.7],[44.405,61.4],
[44.289,68.0],[44.291,68.45],[44.295,68.4],[44.298,68.5],[44.301,68.65],[44.305,68.25],[44.308,68.15],[44.312,68.05],[44.316,67.9],[44.32,67.95],[44.324,67.7],[44.328,67.35],[44.332,67.35],[44.336,67.25],[44.34,66.85],[44.344,66.8],[44.348,66.6],[44.352,66.15],[44.356,65.85],[44.36,65.55],[44.364,65.2],[44.368,64.8],[44.371,64.4],[44.374,64.05],[44.378,63.75],[44.382,63.45],[44.386,63.15],[44.39,62.85],[44.394,62.5],[44.398,62.15],[44.401,61.85],[44.404,61.55]
];

const afterLRM = [
[43.316,67.7],[43.316,67.3],[43.316,66.9],[43.317,66.5],[43.32,67.9],[43.325,68.3],[43.325,67.6],[43.33,68.6],[43.335,68.9],[43.335,68.2],[43.34,69.1],[43.345,69.4],[43.345,68.7],[43.35,69.6],[43.355,69.0],[43.355,69.8],[43.36,70.0],[43.365,69.5],[43.37,70.2],[43.375,69.3],[43.38,70.3],[43.385,70.0],[43.39,70.6],[43.392,69.6],[43.395,69.0],[43.395,68.4],[43.393,68.1],[43.325,65.6],[43.325,64.8],[43.39,70.3],[43.385,68.9],
[43.32,67.1],[43.33,67.9],[43.34,68.4],[43.35,68.9],[43.36,69.3],[43.37,69.7],[43.38,69.6],[43.318,66.7],[43.36,69.0]
];

// ---------- drawing ----------
const wrap = document.getElementById("wrap");

function panel(o) {
  const mx = d => d[0], sy = d => d[1];
  const layers = o.series.map(s => s.name === "Detected"
    ? Plot.dot(s.data, {x: mx, y: sy, symbol: "square", r: o.detR, fill: classColors[s.name]})
    : Plot.dot(s.data, {x: mx, y: sy, r: 4.1, fill: classColors[s.name]}));
  const svg = Plot.plot({
    width: 1259, height: o.height,
    marginLeft: 107, marginRight: 279, marginTop: o.mt, marginBottom: o.mb,
    x: {domain: o.xd}, y: {domain: o.yd},
    style: {fontFamily: FONT, background: "transparent", overflow: "visible"},
    marks: [
      Plot.frame({fill: "#EBEBEB", stroke: "none"}),
      Plot.ruleX(o.xMinor, {stroke: "#FFFFFF", strokeWidth: 1.1}),
      Plot.ruleY(o.yMinor, {stroke: "#FFFFFF", strokeWidth: 1.1}),
      Plot.ruleX(o.xMajor, {stroke: "#FFFFFF", strokeWidth: 2.2}),
      Plot.ruleY(o.yMajor, {stroke: "#FFFFFF", strokeWidth: 2.2}),
      ...layers,
      Plot.axisX({ticks: o.xMajor, tickSize: 7, tickPadding: 13, fontSize: 24.5, color: "#4D4D4D", stroke: "#333333", strokeWidth: 2, tickFormat: d => String(d), label: null}),
      Plot.axisY({ticks: o.yMajor, tickSize: 7, tickPadding: 9, fontSize: 24.5, color: "#4D4D4D", stroke: "#333333", strokeWidth: 2, tickFormat: d => String(d), label: null})
    ]
  });
  svg.style.top = o.top + "px";
  const s = d3.select(svg);
  const cx = (107 + 980) / 2;
  const plotH = o.height - o.mt - o.mb;
  s.append("text").attr("x", cx).attr("y", o.titleY).attr("text-anchor", "middle")
    .attr("font-size", 39).attr("fill", "#000").attr("font-family", FONT).text(o.title);
  s.append("text").attr("x", cx).attr("y", o.height - o.mb + 73).attr("text-anchor", "middle")
    .attr("font-size", 31).attr("fill", "#000").attr("font-family", FONT).text("Milepost");
  s.append("text").attr("transform", `translate(51,${o.mt + plotH / 2}) rotate(-90)`).attr("text-anchor", "middle")
    .attr("font-size", 31).attr("fill", "#000").attr("font-family", FONT).text("Speed (KmPH)");
  // legend
  const lg = s.append("g").attr("text-anchor", "start");
  lg.append("text").attr("x", 1030).attr("y", o.legTop - 18).attr("text-anchor", "start").attr("font-size", 31).attr("fill", "#000")
    .attr("font-family", FONT).text("LM_Detection");
  lg.append("rect").attr("x", 1028).attr("y", o.legTop).attr("width", 50).attr("height", o.series.length * 50.5)
    .attr("fill", "#F2F2F2");
  o.series.forEach((ser, i) => {
    const cy = o.legTop + 25 + i * 50.5;
    if (ser.name === "Detected") {
      lg.append("rect").attr("x", 1052).attr("y", cy - 1.5).attr("width", 3).attr("height", 3).attr("fill", classColors[ser.name]);
    } else {
      lg.append("circle").attr("cx", 1053).attr("cy", cy).attr("r", 3.6).attr("fill", classColors[ser.name]);
    }
    lg.append("text").attr("x", 1095).attr("y", cy + 8.8).attr("text-anchor", "start").attr("font-size", 24.8).attr("fill", "#000")
      .attr("font-family", FONT).text(ser.name);
  });
  wrap.appendChild(svg);
}

panel({
  top: 0, height: 545, mt: 76, mb: 87, detR: 3.1,
  xd: [39.5024, 44.8274], yd: [60.08, 83.96],
  xMajor: xMajorBefore, xMinor: xMinorBefore, yMajor: yMajorBefore, yMinor: yMinorBefore,
  title: "Before Paint", titleY: 54, legTop: 191,
  series: [
    {name: classesBefore[0], data: beforeDetected},
    {name: classesBefore[1], data: beforeLM},
    {name: classesBefore[2], data: beforeLRM},
    {name: classesBefore[3], data: beforeRM}
  ]
});

panel({
  top: 545, height: 550, mt: 78, mb: 90, detR: 2.7,
  xd: [39.518, 44.634], yd: [60.57, 74.98],
  xMajor: xMajorAfter, xMinor: xMinorAfter, yMajor: yMajorAfter, yMinor: yMinorAfter,
  title: "After Paint", titleY: 55, legTop: 243,
  series: [
    {name: classesAfter[0], data: afterDetected},
    {name: classesAfter[1], data: afterLRM}
  ]
});
</script></body></html>
